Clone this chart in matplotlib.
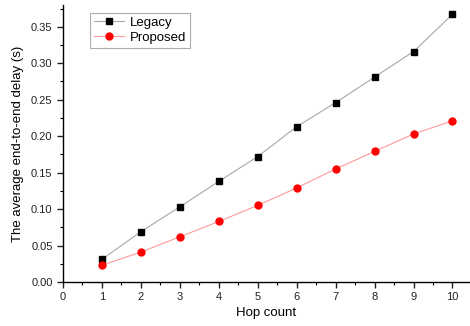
import numpy as np
import matplotlib.pyplot as plt
from matplotlib.ticker import MultipleLocator

plt.rcParams['font.family'] = ['Liberation Sans', 'DejaVu Sans']

hops = [1, 2, 3, 4, 5, 6, 7, 8, 9, 10]
legacy = [0.031, 0.069, 0.103, 0.138, 0.172, 0.213, 0.246, 0.281, 0.316, 0.367]
proposed = [0.023, 0.041, 0.062, 0.083, 0.105, 0.129, 0.155, 0.179, 0.203, 0.221]

fig = plt.figure(figsize=(4.7, 3.26), dpi=100)
ax = fig.add_axes([0.134, 0.135, 0.866, 0.85])

ax.plot(hops, legacy, color='#a8a8a8', lw=0.8, marker='s', ms=4.5,
        mfc='black', mec='black', label='Legacy')
ax.plot(hops, proposed, color='#ff9a9a', lw=0.8, marker='o', ms=5,
        mfc='red', mec='red', label='Proposed')

ax.set_xlim(0, 10.45)
ax.set_ylim(0, 0.38)
ax.xaxis.set_major_locator(MultipleLocator(1))
ax.xaxis.set_minor_locator(MultipleLocator(0.5))
ax.yaxis.set_major_locator(MultipleLocator(0.05))
ax.yaxis.set_minor_locator(MultipleLocator(0.025))
ax.yaxis.set_major_formatter(plt.FormatStrFormatter('%.2f'))

ax.spines['top'].set_visible(False)
ax.spines['right'].set_visible(False)
for s in ['left', 'bottom']:
    ax.spines[s].set_linewidth(1.0)
ax.tick_params(which='major', direction='out', length=4, width=1, labelsize=8, colors='#222222')
ax.tick_params(which='minor', direction='out', length=2.5, width=0.8)

ax.set_xlabel('Hop count', fontsize=9.5, labelpad=3)
ax.set_ylabel('The average end-to-end delay (s)', fontsize=9.5, labelpad=5)

leg = ax.legend(loc='upper left', bbox_to_anchor=(0.05, 0.995), fontsize=9.5,
                fancybox=False, frameon=True, borderpad=0.3, labelspacing=0.2,
                handlelength=2.3, handletextpad=0.4)
leg.get_frame().set_edgecolor('#999999')
leg.get_frame().set_linewidth(0.8)

fig.savefig('out.png', dpi=100)
